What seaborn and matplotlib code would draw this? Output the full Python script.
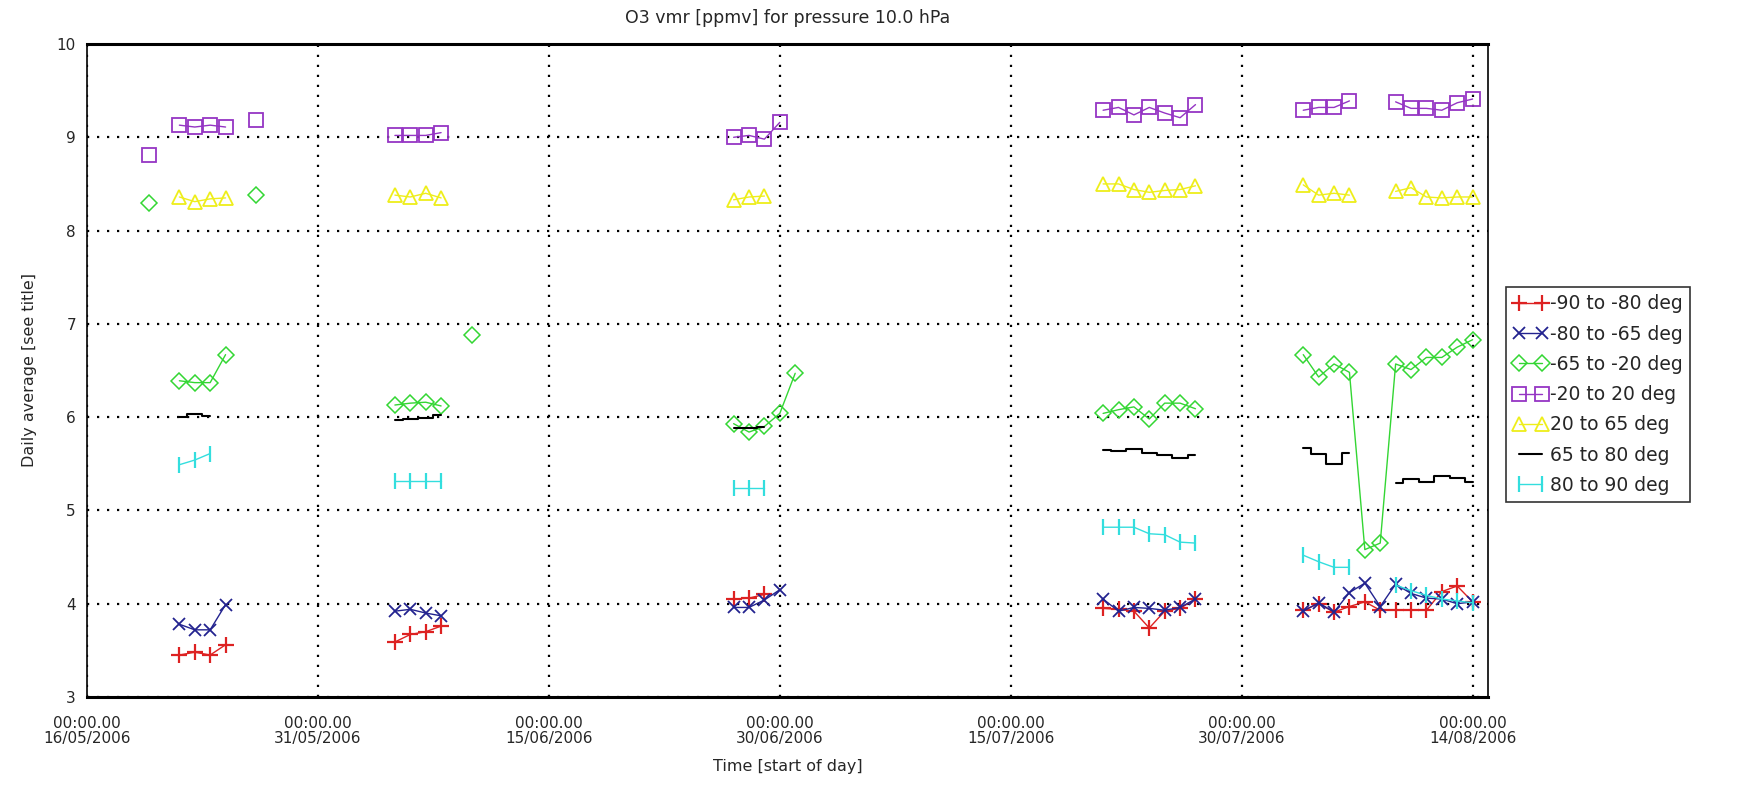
import numpy as np
import pandas as pd
import matplotlib
matplotlib.use("Agg")
import matplotlib.pyplot as plt
import matplotlib.dates as mdates
from matplotlib.lines import Line2D
import seaborn as sns

nan = np.nan

# observation days (offset from 16/05/2006)
day_offsets = [4, 6, 7, 8, 9, 11, 20, 21, 22, 23, 25,
               42, 43, 44, 45, 46,
               66, 67, 68, 69, 70, 71, 72,
               79, 80, 81, 82, 83, 84, 85, 86, 87, 88, 89, 90]

series_names = ["-90 to -80 deg", "-80 to -65 deg", "-65 to -20 deg",
                "-20 to 20 deg", "20 to 65 deg", "65 to 80 deg", "80 to 90 deg"]

s_90_80 = [nan, 3.45, 3.48, 3.45, 3.56, nan, 3.59, 3.67, 3.70, 3.76, nan,
           4.05, 4.06, 4.10, nan, nan,
           3.95, 3.94, 3.92, 3.74, 3.92, 3.95, 4.05,
           3.93, 4.00, 3.91, 3.97, 4.02, 3.93, 3.93, 3.93, 3.93, 4.13, 4.19, 4.02]
s_80_65 = [nan, 3.78, 3.72, 3.72, 3.99, nan, 3.92, 3.94, 3.90, 3.87, nan,
           3.96, 3.96, 4.04, 4.15, nan,
           4.05, 3.92, 3.96, 3.95, 3.93, 3.96, 4.05,
           3.92, 4.01, 3.91, 4.12, 4.22, 3.97, 4.21, 4.11, 4.06, 4.05, 4.00, 4.02]
s_65_20 = [8.30, 6.39, 6.37, 6.37, 6.67, 8.38, 6.13, 6.15, 6.16, 6.12, 6.88,
           5.93, 5.84, 5.90, 6.04, 6.47,
           6.04, 6.08, 6.11, 5.98, 6.15, 6.15, 6.09,
           6.67, 6.43, 6.57, 6.48, 4.58, 4.65, 6.57, 6.51, 6.64, 6.64, 6.75, 6.83]
s_20_20 = [8.81, 9.13, 9.11, 9.13, 9.11, 9.18, 9.02, 9.02, 9.02, 9.05, nan,
           9.00, 9.02, 8.98, 9.16, nan,
           9.29, 9.32, 9.24, 9.32, 9.26, 9.21, 9.35,
           9.29, 9.32, 9.32, 9.39, nan, nan, 9.38, 9.31, 9.31, 9.29, 9.37, 9.41]
s_20_65 = [nan, 8.36, 8.31, 8.34, 8.35, nan, 8.38, 8.36, 8.40, 8.35, nan,
           8.33, 8.36, 8.37, nan, nan,
           8.50, 8.50, 8.44, 8.41, 8.43, 8.44, 8.48,
           8.49, 8.38, 8.40, 8.38, nan, nan, 8.42, 8.46, 8.36, 8.35, 8.36, 8.36]
s_65_80 = [nan, 6.00, 6.03, 6.01, nan, nan, 5.97, 5.98, 5.99, 6.02, nan,
           5.88, 5.88, 5.89, nan, nan,
           5.65, 5.64, 5.66, 5.62, 5.59, 5.56, 5.59,
           5.67, 5.60, 5.50, 5.62, nan, nan, 5.29, 5.34, 5.31, 5.37, 5.35, 5.30]
s_80_90 = [nan, 5.49, 5.54, 5.61, nan, nan, 5.32, 5.32, 5.32, 5.32, nan,
           5.24, 5.24, 5.24, nan, nan,
           4.82, 4.82, 4.82, 4.75, 4.74, 4.66, 4.65,
           4.52, 4.45, 4.39, 4.39, nan, nan, 4.20, 4.14, 4.09, 4.05, 4.03, 4.01]

start = pd.Timestamp("2006-05-16")
dates = start + pd.to_timedelta(day_offsets, unit="D")
df = pd.DataFrame({"date": dates})
for name, vals in zip(series_names, [s_90_80, s_80_65, s_65_20, s_20_20,
                                     s_20_65, s_65_80, s_80_90]):
    df[name] = vals
full = df.set_index("date").asfreq("D")

colors = {
    "-90 to -80 deg": "#dd2222",
    "-80 to -65 deg": "#23238f",
    "-65 to -20 deg": "#33d633",
    "-20 to 20 deg": "#9535c4",
    "20 to 65 deg": "#eeee1a",
    "65 to 80 deg": "#000000",
    "80 to 90 deg": "#33dede",
}
styles = {
    "-90 to -80 deg": dict(marker="+", markersize=11, markeredgewidth=1.6),
    "-80 to -65 deg": dict(marker="x", markersize=9, markeredgewidth=1.3),
    "-65 to -20 deg": dict(marker="D", markersize=8, markeredgewidth=1.1,
                           markerfacecolor="none"),
    "-20 to 20 deg": dict(marker="s", markersize=9.5, markeredgewidth=1.3,
                          markerfacecolor="none"),
    "20 to 65 deg": dict(marker="^", markersize=10, markeredgewidth=1.3,
                         markerfacecolor="none"),
    "65 to 80 deg": dict(drawstyle="steps-mid"),
    "80 to 90 deg": dict(marker="|", markersize=12, markeredgewidth=1.6),
}
widths = {n: 1.0 for n in series_names}
widths["65 to 80 deg"] = 1.5

sns.set_style("white")
plt.rcParams["font.family"] = ["DejaVu Sans"]

fig = plt.figure(figsize=(17.46, 7.87), dpi=100)
ax = fig.add_axes([87 / 1746, 1 - 697 / 787, (1488 - 87) / 1746, (697 - 44) / 787])

handles = []
for name in series_names:
    s = full[name]
    seg = s.isna().cumsum()
    d = pd.DataFrame({"date": s.index, "value": s.values, "seg": seg.values}).dropna()
    st = dict(styles[name])
    col = colors[name]
    sns.lineplot(data=d, x="date", y="value", units="seg", estimator=None,
                 ax=ax, color=col, linewidth=widths[name],
                 markeredgecolor=col, **st)
    hs = dict(styles[name])
    hs.pop("drawstyle", None)
    handles.append(Line2D([], [], color=col, linewidth=widths[name],
                          markeredgecolor=col, label=name, **hs))

ax.set_xlim(start, pd.Timestamp("2006-08-15"))
ax.set_ylim(3, 10)
ax.set_yticks(range(3, 11))
tick_dates = pd.date_range(start, periods=7, freq="15D")
ax.set_xticks(tick_dates)
ax.xaxis.set_major_formatter(mdates.DateFormatter("%H:%M.%S\n%d/%m/%Y"))
for lab in ax.get_xticklabels():
    lab.set_linespacing(1.0)

ax.grid(True, color="black", linestyle=(0, (1, 3.5)), linewidth=1.6)
for sp in ax.spines.values():
    sp.set_visible(True)
    sp.set_color("black")
    sp.set_linewidth(1.2)
ax.spines["top"].set_linewidth(2.2)
ax.spines["bottom"].set_linewidth(2.2)

ax.tick_params(axis="x", length=0, pad=14, labelsize=11)
ax.tick_params(axis="y", length=0, pad=8, labelsize=11)

ax.set_title("O3 vmr [ppmv] for pressure 10.0 hPa", fontsize=12.5, pad=15)
ax.set_xlabel("Time [start of day]", fontsize=11.5, labelpad=9)
ax.set_ylabel("Daily average [see title]", fontsize=11.5, labelpad=14)

leg = ax.legend(handles=handles, loc="upper left",
                bbox_to_anchor=(1.0128, 0.628), frameon=True, fancybox=False,
                edgecolor="black", fontsize=13.5, handlelength=1.8, numpoints=2,
                handletextpad=0.15, borderpad=0.4, labelspacing=0.6,
                borderaxespad=0)
leg.get_frame().set_linewidth(1.2)

fig.savefig("out.png", dpi=100)
